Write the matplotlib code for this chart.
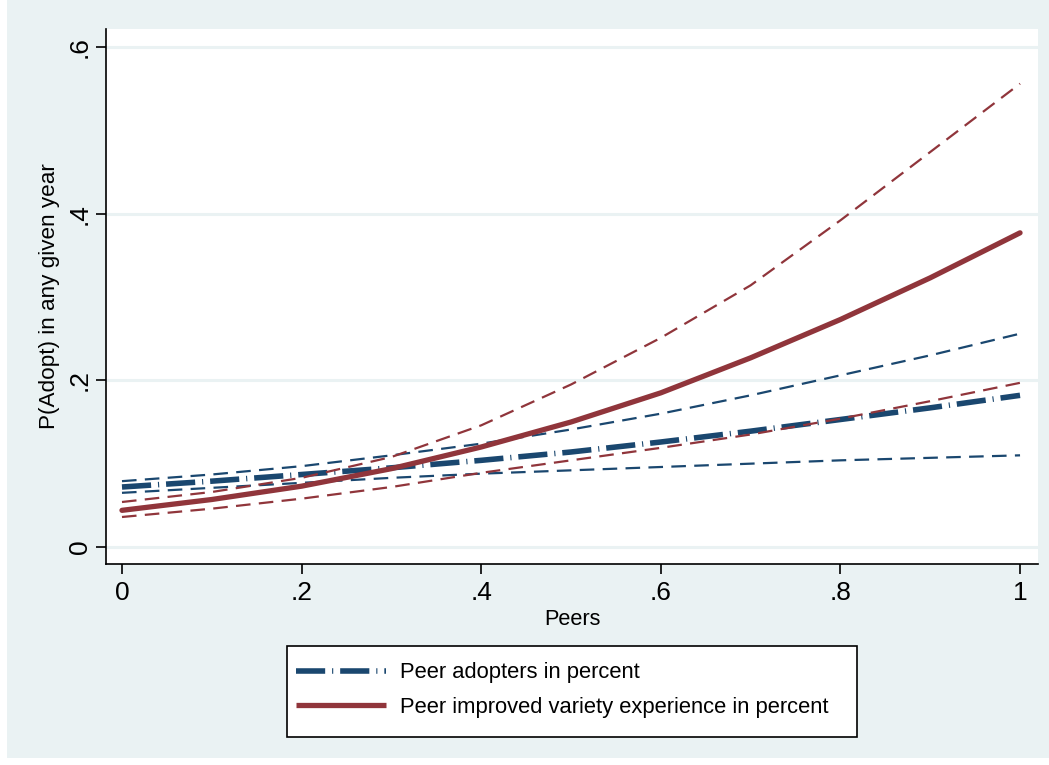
import matplotlib
matplotlib.use("Agg")
import matplotlib.pyplot as plt
from matplotlib.patches import Rectangle

plt.rcParams['font.family'] = ['Liberation Sans', 'DejaVu Sans']
plt.rcParams['lines.scale_dashes'] = False

# predicted adoption probabilities over the share of peers
peers = [0.0, 0.1, 0.2, 0.3, 0.4, 0.5, 0.6, 0.7, 0.8, 0.9, 1.0]

adopters = [0.072, 0.079, 0.087, 0.095, 0.104, 0.114, 0.126, 0.139, 0.153, 0.167, 0.182]
adopters_hi = [0.079, 0.087, 0.097, 0.110, 0.124, 0.141, 0.160, 0.182, 0.206, 0.230, 0.256]
adopters_lo = [0.065, 0.071, 0.077, 0.083, 0.088, 0.092, 0.096, 0.100, 0.104, 0.107, 0.110]

experience = [0.044, 0.057, 0.073, 0.094, 0.120, 0.150, 0.185, 0.227, 0.273, 0.323, 0.377]
experience_hi = [0.054, 0.066, 0.083, 0.108, 0.146, 0.195, 0.251, 0.314, 0.392, 0.474, 0.556]
experience_lo = [0.036, 0.046, 0.058, 0.072, 0.089, 0.104, 0.119, 0.135, 0.154, 0.175, 0.197]

labels = ['Peer adopters in percent', 'Peer improved variety experience in percent']
yticks = [0, 0.2, 0.4, 0.6]
ytick_labels = ['0', '.2', '.4', '.6']
xticks = [0, 0.2, 0.4, 0.6, 0.8, 1.0]
xtick_labels = ['0', '.2', '.4', '.6', '.8', '1']

navy = '#1A476F'
maroon = '#90353B'
bluishgray = '#EAF2F3'

W, H = 1049, 765
fig = plt.figure(figsize=(W / 100, H / 100), dpi=100, facecolor='white')
fig.patches.append(Rectangle((7 / W, 7 / H), (W - 7) / W, (H - 7) / H,
                             transform=fig.transFigure, facecolor=bluishgray,
                             edgecolor='none', zorder=-10))

ax = fig.add_axes([106 / W, 1 - 564 / H, (1038 - 106) / W, (564 - 29) / H])
ax.set_facecolor('white')

ax.set_xlim(-0.0178, 1.0200)
ax.set_ylim(-0.0204, 0.6216)

ax.set_yticks(yticks)
ax.set_yticklabels(ytick_labels, rotation=90, va='center')
ax.set_xticks(xticks)
ax.set_xticklabels(xtick_labels)
ax.tick_params(axis='both', direction='out', length=7, width=1.2, labelsize=19, color='black')
ax.tick_params(axis='y', pad=3)
ax.tick_params(axis='x', pad=5)

for y in yticks:
    ax.axhline(y, color=bluishgray, lw=2.2, zorder=0.5)

for s in ['top', 'right']:
    ax.spines[s].set_visible(False)
for s in ['left', 'bottom']:
    ax.spines[s].set_linewidth(1.2)

ax.set_xlabel('Peers', fontsize=15.7, labelpad=3)
ax.set_ylabel('P(Adopt) in any given year', fontsize=16.2, labelpad=6)

ci_dash = (10.5, 6)
ax.plot(peers, adopters_hi, color=navy, lw=1.6, dashes=ci_dash, dash_capstyle='butt')
ax.plot(peers, adopters_lo, color=navy, lw=1.6, dashes=ci_dash, dash_capstyle='butt')
l1, = ax.plot(peers, adopters, color=navy, lw=4.0, dashes=(21, 5, 0.8, 5),
              dash_capstyle='butt')
ax.plot(peers, experience_hi, color=maroon, lw=1.6, dashes=ci_dash, dash_capstyle='butt')
ax.plot(peers, experience_lo, color=maroon, lw=1.6, dashes=ci_dash, dash_capstyle='butt')
l2, = ax.plot(peers, experience, color=maroon, lw=3.8, solid_capstyle='round')

# legend box below the plot
fig.patches.append(Rectangle((287 / W, 1 - 737 / H), (857 - 287) / W, (737 - 646) / H,
                             transform=fig.transFigure, facecolor='white',
                             edgecolor='black', lw=1.2, zorder=1))
leg = fig.legend([l1, l2], labels, loc='center left', bbox_to_anchor=(296 / W, 1 - 690 / H),
                 frameon=False, fontsize=15.8, handlelength=4.1, handletextpad=0.64,
                 labelspacing=0.62, borderpad=0, borderaxespad=0)
leg.set_zorder(2)
leg.legend_handles[1].set_solid_capstyle('butt')

fig.savefig('out.png', dpi=100, facecolor=fig.get_facecolor())
